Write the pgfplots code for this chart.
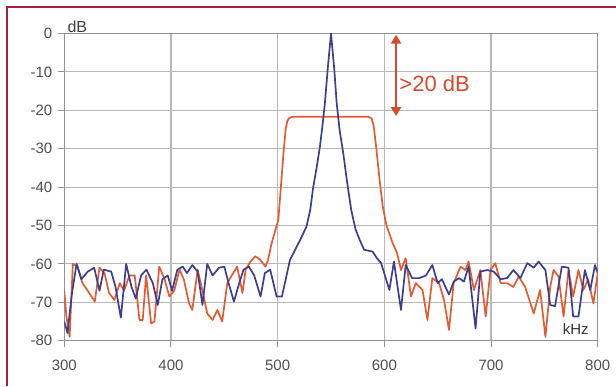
\documentclass[border=0pt]{standalone}
\usepackage{pgfplots}
\pgfplotsset{compat=1.18}
\usepackage{fontspec}
\setmainfont{Liberation Sans}
\usetikzlibrary{arrows.meta}
\definecolor{bordercol}{HTML}{A3213F}
\definecolor{redline}{HTML}{E45B32}
\definecolor{blueline}{HTML}{3D3F8E}
\definecolor{arrowcol}{HTML}{D84A2C}
\definecolor{gridcol}{HTML}{B8B8B8}
\definecolor{labcol}{HTML}{505050}
\begin{document}
\begin{tikzpicture}[x=1pt,y=1pt]
\useasboundingbox (0,0) rectangle (616,386);
\fill[white] (0,0) rectangle (616,386);
\draw[line width=1.6pt, color=bordercol] (7,0) -- (7,379) -- (616.5,379);
\begin{axis}[
  at={(64.3pt,45.3pt)}, anchor=south west,
  scale only axis, width=533.4pt, height=307.2pt,
  xmin=300, xmax=800, ymin=-80, ymax=0,
  xtick={300,400,...,800}, ytick={-80,-70,...,0},
  grid=major, grid style={gridcol, line width=1.1pt},
  axis line style={gridcol!80!black, line width=1.3pt},
  tick style={gridcol!80!black, line width=1pt},
  tick align=outside, major tick length=6pt,
  xtick pos=left, ytick pos=left,
  /pgf/number format/assume math mode=true,
  ticklabel style={font=\fontsize{15}{15}\selectfont, color=labcol},
  yticklabel style={xshift=-2.5pt},
  xticklabel style={yshift=-10pt},
  clip mode=individual,
]
\addplot[redline, line width=1.7pt, line join=round] coordinates {
(300,-67) (302,-73.7) (305,-79) (308,-60) (312.5,-60.7) (317,-65) (322,-67)
(328.6,-69.8) (333,-61) (337.7,-62.4) (342,-67.6) (347,-69.4) (352,-65) (356,-67)
(361,-63) (366,-63) (370.5,-74.6) (373.5,-74.6) (376.7,-63) (381.4,-75.5) (384.5,-75)
(389,-60.7) (394,-64) (398.5,-68.5) (403,-67) (408,-61.5) (412,-64) (417,-70.3)
(420,-72) (425,-61.5) (430,-67.6) (434,-72.9) (439,-74.6) (443.5,-72) (448,-75)
(452.8,-65) (457,-63) (462,-60.7) (467,-67.6) (470,-61.5) (474.5,-59.4) (479,-58)
(484,-59) (488.5,-60.7) (491,-59) (494,-55) (497,-52) (500.6,-48.6) (503,-40)
(505.5,-31) (507.5,-25) (509,-22.8) (511,-22) (514,-21.7) (585,-21.7)
(588,-22.1) (590,-24) (592.5,-30) (595.5,-38) (598.5,-45) (602,-50) (607.8,-54.6)
(612,-57.2) (615.6,-61.6) (620,-58.5) (625,-68.5) (629.5,-65) (635.8,-66.8)
(640.4,-74.6) (645,-63.7) (651.3,-65) (656,-69.4) (660.6,-77.2) (665,-65)
(671.5,-60.7) (676,-61.6) (679,-59.4) (684,-66.8) (690,-61.6) (695,-73.7)
(699.5,-61.6) (704,-59.8) (709,-65) (715,-65) (721,-66) (726,-63.3) (732,-66)
(740,-72.9) (746,-66.8) (751,-79) (755.5,-66) (758.6,-61.6) (763.3,-63.3)
(768,-73.7) (772.6,-61.6) (777,-68.5) (782,-61.6) (786.6,-66.8) (791,-64)
(796,-70.3) (800,-62.4)
};
\addplot[blueline, line width=1.7pt, line join=round] coordinates {
(300,-75) (303,-78) (307,-68) (311.5,-60) (316,-64) (322,-62) (328,-61) (333,-67)
(337,-61.5) (344,-62) (348,-66) (353,-74) (358,-60) (363,-66) (367,-69) (372,-63)
(377,-61.5) (383,-65) (387.6,-70.7) (392,-64) (397,-63) (401,-67) (406,-61.5)
(411,-60.7) (415,-62.4) (420,-60.3) (425,-62) (429.5,-70.7) (434,-60) (439,-63)
(445,-61) (450,-60.7) (454,-65) (459,-69.8) (464,-65) (468,-61.5) (473,-60.7)
(478,-63) (484,-68.5) (488,-62.4) (493,-61.5) (499,-68.5) (504,-68.5) (511.5,-59)
(516,-56.5) (521,-53.8) (527,-50.3) (530.5,-46) (533.4,-39.9) (536.5,-35)
(539.6,-29.5) (542,-24) (544.3,-18.1) (547,-9) (550,0) (553,-9) (555.3,-18)
(558,-25) (561.5,-31.2) (565,-38.5) (569,-46) (573,-51) (577,-53.8) (581,-56.3)
(589,-56.8) (593,-58.5) (597,-59.8) (604.7,-66.8) (609,-59.4) (615.6,-72)
(620,-60.3) (626,-63.7) (632.7,-63.7) (639,-63) (645,-60.3) (650,-65) (654,-64)
(660.6,-68) (665,-64.6) (670,-63.7) (674.6,-64.6) (679,-60.7) (685.5,-76.8)
(690,-62) (696.4,-61.6) (702.6,-62) (709,-64) (715,-63.7) (721,-61.6) (727.5,-63.7)
(734,-59.8) (740,-61) (744.6,-59.4) (751,-61.6) (755.5,-70.7) (760,-71)
(766.4,-60.7) (772.6,-61) (777,-73.7) (782,-73.7) (788,-61.6) (793,-66.8)
(797.5,-60.3) (800,-62.4)
};
\draw[arrowcol, line width=2.6pt, {Triangle[length=9pt,width=10pt]}-{Triangle[length=9pt,width=10pt]}]
  (axis cs:611,-0.3) -- (axis cs:611,-21.5);
\node[anchor=west, text=arrowcol, font=\fontsize{22}{22}\selectfont, inner sep=0pt]
  at (axis cs:614,-13) {>20 dB};
\node[anchor=base west, text=black!75, font=\fontsize{16}{16}\selectfont, inner sep=0pt]
  at (rel axis cs:0,1) [xshift=3pt, yshift=1.5pt] {dB};
\node[anchor=center, text=black!80, font=\fontsize{15}{15}\selectfont, inner sep=0pt]
  at (axis cs:779.5,-77) {kHz};
\end{axis}
\end{tikzpicture}
\end{document}
